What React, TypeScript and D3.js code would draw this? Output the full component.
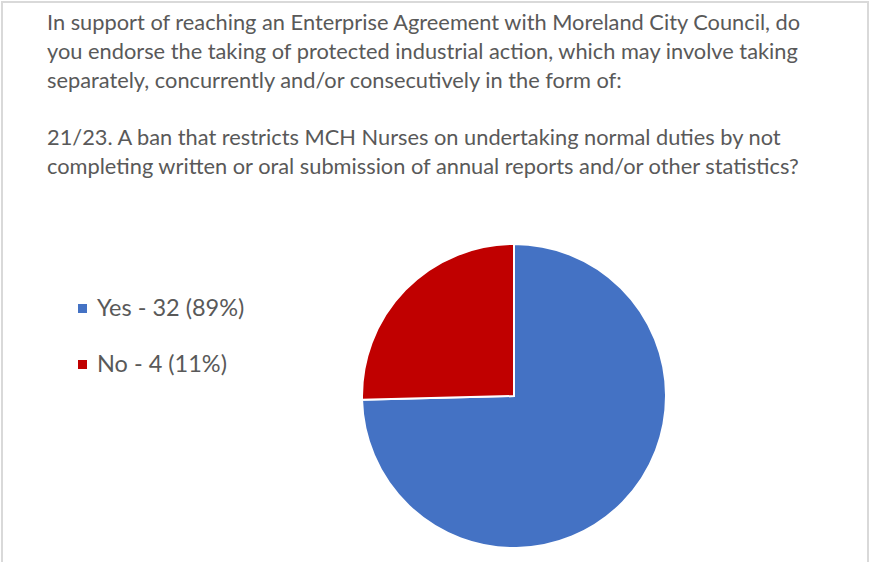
import React from "react";
import * as d3 from "d3";

const titleLines = [
  "In support of reaching an Enterprise Agreement with Moreland City Council, do",
  "you endorse the taking of protected industrial action, which may involve taking",
  "separately, concurrently and/or consecutively in the form of:",
  "",
  "21/23. A ban that restricts MCH Nurses on undertaking normal duties by not",
  "completing written or oral submission of annual reports and/or other statistics?",
];
const categories = ["Yes", "No"];
const legendLabels = ["Yes - 32 (89%)", "No - 4 (11%)"];
// slice shares as drawn in the picture
const sliceValues = [74.6, 25.4];
const colors = ["#4472C4", "#C00000"];

export default function App() {
  const W = 870, H = 562;
  const cx = 514, cy = 396, r = 152;
  const pie = d3.pie<number>().sort(null).value((d) => d)(sliceValues);
  const arc = d3.arc<d3.PieArcDatum<number>>().innerRadius(0).outerRadius(r);
  const font = "Lato, 'Open Sans', sans-serif";
  const lineY = d3.scaleLinear().domain([0, 1]).range([30, 58.8]);
  return (
    <svg width={W} height={H} style={{ position: "absolute", left: 0, top: 0 }}>
      <rect x={0} y={0} width={W} height={H} fill="#fff" />
      <rect x={2} y={2} width={866} height={H + 10} fill="none" stroke="#d9d9d9" strokeWidth={2} />
      {titleLines.map((t, i) => (
        <text key={i} x={47} y={lineY(i)} fontFamily={font} fontSize={21.8} fill="#595959">
          {t}
        </text>
      ))}
      <g transform={`translate(${cx},${cy})`}>
        {pie.map((p, i) => (
          <path key={categories[i]} d={arc(p) || ""} fill={colors[i]} stroke="#fff" strokeWidth={2} />
        ))}
      </g>
      {legendLabels.map((l, i) => (
        <g key={l} transform={`translate(0,${i * 56})`}>
          <rect x={78} y={304} width={9} height={9} fill={colors[i]} />
          <text x={97} y={316} fontFamily={font} fontSize={23.5} fill="#595959">
            {l}
          </text>
        </g>
      ))}
    </svg>
  );
}
